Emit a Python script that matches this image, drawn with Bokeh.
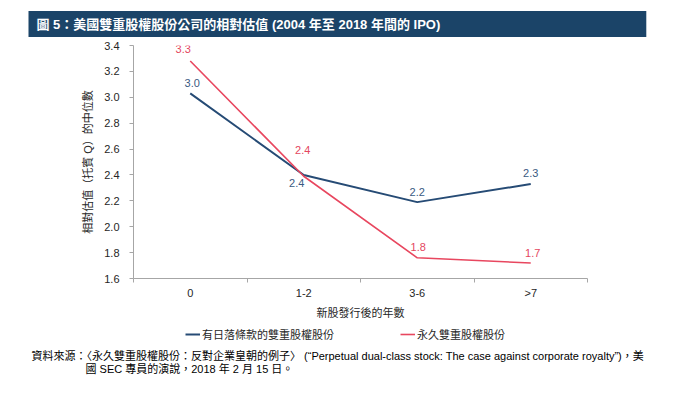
from bokeh.plotting import figure
from bokeh.models import (FixedTicker, Legend, LegendItem, Range1d, Title,
                          NumeralTickFormatter, ColumnDataSource)
from bokeh.layouts import column
from bokeh.embed import file_html
from bokeh.resources import INLINE
from bokeh.core.properties import value

# ---------------- data ----------------
categories = ["0", "1-2", "3-6", ">7"]
sunset = [3.03, 2.40, 2.19, 2.33]        # 有日落條款的雙重股權股份
perpetual = [3.28, 2.39, 1.76, 1.72]     # 永久雙重股權股份
y_ticks = [1.6, 1.8, 2.0, 2.2, 2.4, 2.6, 2.8, 3.0, 3.2, 3.4]
y_min, y_max = 1.6, 3.4

title_text = "圖 5：美國雙重股權股份公司的相對估值 (2004 年至 2018 年間的 IPO)"
x_label = "新股發行後的年數"
y_label = "相對估值（托賓 Q）的中位數"
legend_labels = ["有日落條款的雙重股權股份", "永久雙重股權股份"]
source_line1 = ("資料來源：〈永久雙重股權股份：反對企業皇朝的例子〉 "
                "(“Perpetual dual-class stock: The case against corporate royalty”)，美")
source_line2 = "國 SEC 專員的演說，2018 年 2 月 15 日。"

# ---------------- style ----------------
FONT = "'Liberation Sans', 'Noto Sans CJK TC', sans-serif"
NARROW = "'Liberation Sans Narrow', 'Liberation Sans', 'Noto Sans CJK TC', sans-serif"
NAVY = "#1B4468"
BLUE = "#264B75"
RED = "#E8475F"
BLUE_TXT = "#3A5A82"
RED_TXT = "#E4465E"
AXIS = "#A6A6A6"
TXT = "#262626"
W = 694
BL, BR = 133, 107

xs = [i + 0.5 for i in range(len(categories))]
bounds = [float(i) for i in range(len(categories) + 1)]

# ---------------- main chart ----------------
p = figure(width=W, height=325, x_range=Range1d(0, len(categories)),
           y_range=Range1d(y_min, y_max), toolbar_location=None, output_backend="svg",
           min_border_left=BL, min_border_right=BR, min_border_top=44, min_border_bottom=47)
p.grid.visible = False
p.outline_line_color = None
p.background_fill_color = "white"
p.border_fill_color = "white"

r_blue = p.line(xs, sunset, line_color=BLUE, line_width=2)
r_red = p.line(xs, perpetual, line_color=RED, line_width=1.6)

blue_dx = [2, -7, 0, 0]
blue_dy = [-10, 8, -10, -11]
red_dx = [-7, -1, 1, 2]
red_dy = [-12, -26, -11, -10]

src_b = ColumnDataSource(dict(x=xs, y=sunset, t=[f"{v:.1f}" for v in sunset], dx=blue_dx, dy=blue_dy))
src_r = ColumnDataSource(dict(x=xs, y=perpetual, t=[f"{v:.1f}" for v in perpetual], dx=red_dx, dy=red_dy))
for src, col in ((src_b, BLUE_TXT), (src_r, RED_TXT)):
    p.text(x="x", y="y", text="t", x_offset="dx", y_offset="dy", source=src,
           text_color=col, text_font_size="11px", text_font=value(FONT),
           text_align="center", text_baseline="middle")

# x axis
xa = p.xaxis[0]
xa.ticker = FixedTicker(ticks=xs, minor_ticks=bounds)
xa.major_label_overrides = {x: c for x, c in zip(xs, categories)}
xa.major_tick_line_color = None
xa.major_tick_out = 4
xa.major_tick_in = 0
xa.minor_tick_line_color = AXIS
xa.minor_tick_out = 4
xa.minor_tick_in = 0
xa.axis_line_color = AXIS
xa.major_label_text_font = FONT
xa.major_label_text_font_size = "11px"
xa.major_label_text_color = TXT
xa.major_label_standoff = 4
xa.axis_label = x_label
xa.axis_label_text_font = FONT
xa.axis_label_text_font_size = "11px"
xa.axis_label_text_font_style = "normal"
xa.axis_label_text_color = TXT
xa.axis_label_standoff = 5

# y axis
ya = p.yaxis[0]
ya.ticker = FixedTicker(ticks=y_ticks)
ya.formatter = NumeralTickFormatter(format="0.0")
ya.major_tick_line_color = AXIS
ya.major_tick_out = 4
ya.major_tick_in = 0
ya.minor_tick_line_color = None
ya.axis_line_color = AXIS
ya.major_label_text_font = FONT
ya.major_label_text_font_size = "11px"
ya.major_label_text_color = TXT
ya.major_label_standoff = 10
ya.axis_label = y_label
ya.axis_label_text_font = FONT
ya.axis_label_text_font_size = "11px"
ya.axis_label_text_font_style = "normal"
ya.axis_label_text_color = TXT
ya.axis_label_standoff = 7

# title bar (title with a padded navy background)
p.add_layout(Title(text=title_text, align="left", offset=-105, standoff=17,
                   text_color="white", text_font=NARROW, text_font_style="bold",
                   text_font_size="13px", background_fill_color=NAVY,
                   padding=dict(left=8, right=206, top=6, bottom=5)), "above")

# ---------------- legend + source strip ----------------
# the same series are drawn here outside this strip's ranges, only to feed the legend
q = figure(width=W, height=72, x_range=Range1d(0, 1), y_range=Range1d(0, 1),
           toolbar_location=None, output_backend="svg",
           x_axis_location=None, y_axis_location=None,
           min_border_left=BL, min_border_right=BR, min_border_top=0, min_border_bottom=52)
q.grid.visible = False
q.outline_line_color = None
q.background_fill_color = "white"
q.border_fill_color = "white"
g_blue = q.line(xs, sunset, line_color=BLUE, line_width=2)
g_red = q.line(xs, perpetual, line_color=RED, line_width=1.6)

legend = Legend(items=[LegendItem(label=legend_labels[0], renderers=[g_blue]),
                       LegendItem(label=legend_labels[1], renderers=[g_red])],
                orientation="horizontal", location=(52, 3),
                glyph_width=15, glyph_height=12, label_standoff=2, spacing=66,
                padding=0, margin=0, border_line_color=None, background_fill_alpha=0,
                label_text_font=FONT, label_text_font_size="11px", label_text_color=TXT)
q.add_layout(legend)

for txt, off, so in ((source_line1, -102, 5), (source_line2, -48, -8)):
    q.add_layout(Title(text=txt, align="left", offset=off, standoff=so,
                       text_color="#000000", text_font=NARROW, text_font_style="normal",
                       text_font_size="11px"), "below")

layout = column(p, q, spacing=0)
open("out.html", "w").write(file_html(layout, INLINE))
